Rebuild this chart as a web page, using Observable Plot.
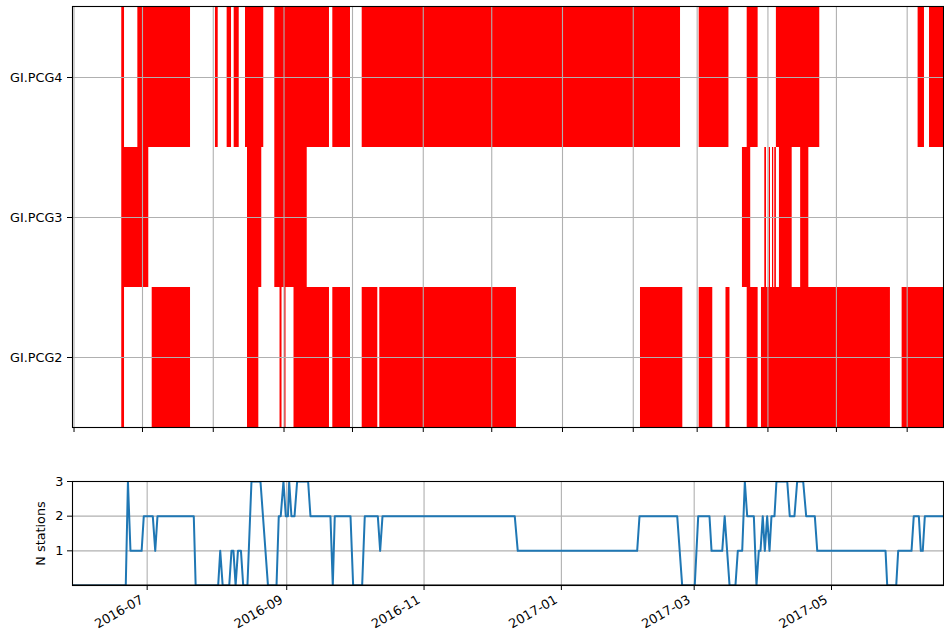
<!DOCTYPE html>
<html>
<head>
<meta charset="utf-8">
<script src="https://cdn.jsdelivr.net/npm/d3@7"></script>
<script src="https://cdn.jsdelivr.net/npm/@observablehq/plot@0.6"></script>
<style>
  html, body { margin: 0; padding: 0; background: white; }
  #chart { position: relative; width: 944px; height: 635px; background: white; }
  #chart svg { position: absolute; left: 0; }
</style>
</head>
<body>
<div id="chart"></div>
<script>
// ---- data (UTC, "YYYY-MM-DDTHH") ----
const stations = ["GI.PCG4", "GI.PCG3", "GI.PCG2"];

const pcg4Spans = [
  ["2016-06-21T22", "2016-06-23T03"], ["2016-06-28T23", "2016-07-22T01"],
  ["2016-08-01T23", "2016-08-03T04"], ["2016-08-07T02", "2016-08-09T00"],
  ["2016-08-10T04", "2016-08-12T09"], ["2016-08-15T03", "2016-08-23T03"],
  ["2016-08-27T23", "2016-09-20T22"], ["2016-09-22T09", "2016-09-30T03"],
  ["2016-10-05T06", "2017-02-21T17"], ["2017-03-01T21", "2017-03-14T22"],
  ["2017-03-22T22", "2017-03-27T17"], ["2017-04-04T17", "2017-04-23T17"],
  ["2017-06-05T19", "2017-06-08T14"], ["2017-06-10T19", "2017-06-18T00"]
];
const pcg3Spans = [
  ["2016-06-21T22", "2016-07-03T18"], ["2016-08-16T00", "2016-08-22T06"],
  ["2016-08-27T23", "2016-09-11T04"], ["2017-03-20T20", "2017-03-24T11"],
  ["2017-03-30T15", "2017-03-31T09"], ["2017-04-01T13", "2017-04-02T03"],
  ["2017-04-03T00", "2017-04-03T13"], ["2017-04-04T00", "2017-04-04T17"],
  ["2017-04-06T01", "2017-04-11T15"], ["2017-04-15T08", "2017-04-18T22"]
];
const pcg2Spans = [
  ["2016-06-21T22", "2016-06-23T03"], ["2016-07-05T06", "2016-07-22T01"],
  ["2016-08-16T00", "2016-08-20T23"], ["2016-08-30T06", "2016-08-31T03"],
  ["2016-09-01T05", "2016-09-01T21"], ["2016-09-05T09", "2016-09-20T22"],
  ["2016-09-22T09", "2016-09-30T03"], ["2016-10-05T06", "2016-10-12T02"],
  ["2016-10-12T23", "2016-12-11T20"], ["2017-02-04T04", "2017-02-22T17"],
  ["2017-03-01T21", "2017-03-07T20"], ["2017-03-13T15", "2017-03-15T09"],
  ["2017-03-22T22", "2017-03-27T17"], ["2017-03-29T04", "2017-05-24T16"],
  ["2017-05-29T19", "2017-06-18T00"]
];

const countTimes = [
  "2016-05-28T20","2016-06-21T12","2016-06-22T11","2016-06-23T14","2016-06-28T13","2016-06-29T12",
  "2016-07-03T12","2016-07-04T14","2016-07-05T14","2016-07-21T17","2016-07-22T13","2016-08-01T13",
  "2016-08-02T11","2016-08-03T13","2016-08-06T11","2016-08-07T11","2016-08-08T08","2016-08-09T07",
  "2016-08-10T08","2016-08-11T16","2016-08-12T16","2016-08-14T13","2016-08-16T08","2016-08-20T08",
  "2016-08-23T16","2016-08-27T11","2016-08-28T11","2016-08-29T08","2016-08-30T13","2016-08-31T14",
  "2016-09-01T13","2016-09-02T02","2016-09-03T02","2016-09-04T11","2016-09-05T15","2016-09-10T12",
  "2016-09-11T13","2016-09-20T10","2016-09-21T11","2016-09-22T08","2016-09-29T08","2016-09-30T12",
  "2016-10-04T12","2016-10-05T16","2016-10-11T11","2016-10-12T12","2016-10-13T13","2016-12-11T07",
  "2016-12-12T15","2017-02-03T16","2017-02-04T17","2017-02-21T11","2017-02-23T16","2017-03-01T06",
  "2017-03-02T19","2017-03-07T19","2017-03-08T17","2017-03-13T11","2017-03-14T13","2017-03-16T17",
  "2017-03-19T08","2017-03-20T09","2017-03-22T08","2017-03-23T12","2017-03-24T13","2017-03-27T12",
  "2017-03-28T16","2017-03-29T17","2017-03-30T11","2017-03-31T11","2017-04-01T09","2017-04-02T10",
  "2017-04-03T11","2017-04-04T08","2017-04-05T16","2017-04-06T13","2017-04-11T08","2017-04-12T11",
  "2017-04-14T13","2017-04-15T18","2017-04-18T10","2017-04-19T18","2017-04-23T14","2017-04-24T16",
  "2017-05-25T00","2017-05-25T18","2017-05-29T18","2017-05-30T15","2017-06-05T13","2017-06-06T13",
  "2017-06-08T19","2017-06-09T16","2017-06-10T13","2017-06-11T11","2017-06-19T18"
];
const countValues = [
  0,0,3,1,1,2,
  2,1,2,2,0,0,
  1,0,0,1,1,0,
  1,1,0,0,3,3,
  0,0,2,2,3,2,
  2,3,2,2,3,3,
  2,2,0,2,2,0,
  0,2,2,1,2,2,
  1,1,2,2,0,0,
  2,2,1,1,2,0,
  0,1,1,3,2,2,
  0,1,1,2,1,2,
  1,2,2,3,3,2,
  2,3,3,2,2,1,
  1,0,0,1,1,2,
  2,1,1,2,2
];
const countTicks = [1, 2, 3];

// axis extents
const topExtent = ["2016-05-31T08", "2017-06-16T22"];
const bottomExtent = ["2016-05-28T20", "2017-06-19T18"];

// ---- build ----
const parse = d3.utcParse("%Y-%m-%dT%H");
const spans = [pcg4Spans, pcg3Spans, pcg2Spans];
const intervals = stations.flatMap((s, i) =>
  spans[i].map(([a, b]) => ({station: s, start: parse(a), end: parse(b)})));
const counts = countTimes.map((t, i) => ({t: parse(t), n: countValues[i]}));

const font = {fontFamily: "DejaVu Sans", fontSize: "12.8px", color: "black", background: "white", overflow: "visible"};
const grid = "#b0b0b0";

const topChart = Plot.plot({
  width: 944, height: 440,
  marginLeft: 72, marginRight: 1, marginTop: 6, marginBottom: 13,
  style: font,
  x: {type: "utc", domain: topExtent.map(parse)},
  y: {type: "band", domain: stations, padding: 0},
  marks: [
    Plot.barX(intervals, {x1: "start", x2: "end", y: "station", fill: "red"}),
    Plot.gridX({ticks: d3.utcMonth.every(1), stroke: grid, strokeOpacity: 1, strokeWidth: 1.1}),
    Plot.gridY({stroke: grid, strokeOpacity: 1, strokeWidth: 1.1}),
    Plot.axisX({ticks: d3.utcMonth.every(1), tickFormat: () => "", tickSize: 5, label: null}),
    Plot.axisY({tickSize: 5, tickPadding: 5, label: null}),
    Plot.frame({stroke: "black", strokeWidth: 1.1})
  ]
});
topChart.style.top = "0px";

const bottomChart = Plot.plot({
  width: 944, height: 165,
  marginLeft: 72, marginRight: 1, marginTop: 11, marginBottom: 50,
  style: font,
  x: {type: "utc", domain: bottomExtent.map(parse)},
  y: {domain: [0, 3]},
  marks: [
    Plot.gridX({ticks: d3.utcMonth.every(2), stroke: grid, strokeOpacity: 1, strokeWidth: 1.1}),
    Plot.gridY({ticks: countTicks, stroke: grid, strokeOpacity: 1, strokeWidth: 1.1}),
    Plot.lineY(counts, {x: "t", y: "n", stroke: "#1f77b4", strokeWidth: 2, clip: true}),
    Plot.ruleY([0], {stroke: "black", strokeWidth: 2.2, clip: true}),
    Plot.axisX({ticks: d3.utcMonth.every(2), tickFormat: () => "", tickSize: 5, label: null}),
    Plot.axisX({ticks: d3.utcMonth.every(2), tickFormat: d3.utcFormat("%Y-%m"), tickRotate: -30, tickSize: 0, tickPadding: 9, dx: -5, dy: 4, label: null}),
    Plot.axisY({ticks: countTicks, tickFormat: d3.format("d"), tickSize: 5, tickPadding: 4, label: "N stations", labelAnchor: "center", labelArrow: "none", labelOffset: 37}),
    Plot.frame({stroke: "black", strokeWidth: 1.1})
  ]
});
bottomChart.style.top = "470px";

const el = document.getElementById("chart");
el.appendChild(topChart);
el.appendChild(bottomChart);
</script>
</body>
</html>
